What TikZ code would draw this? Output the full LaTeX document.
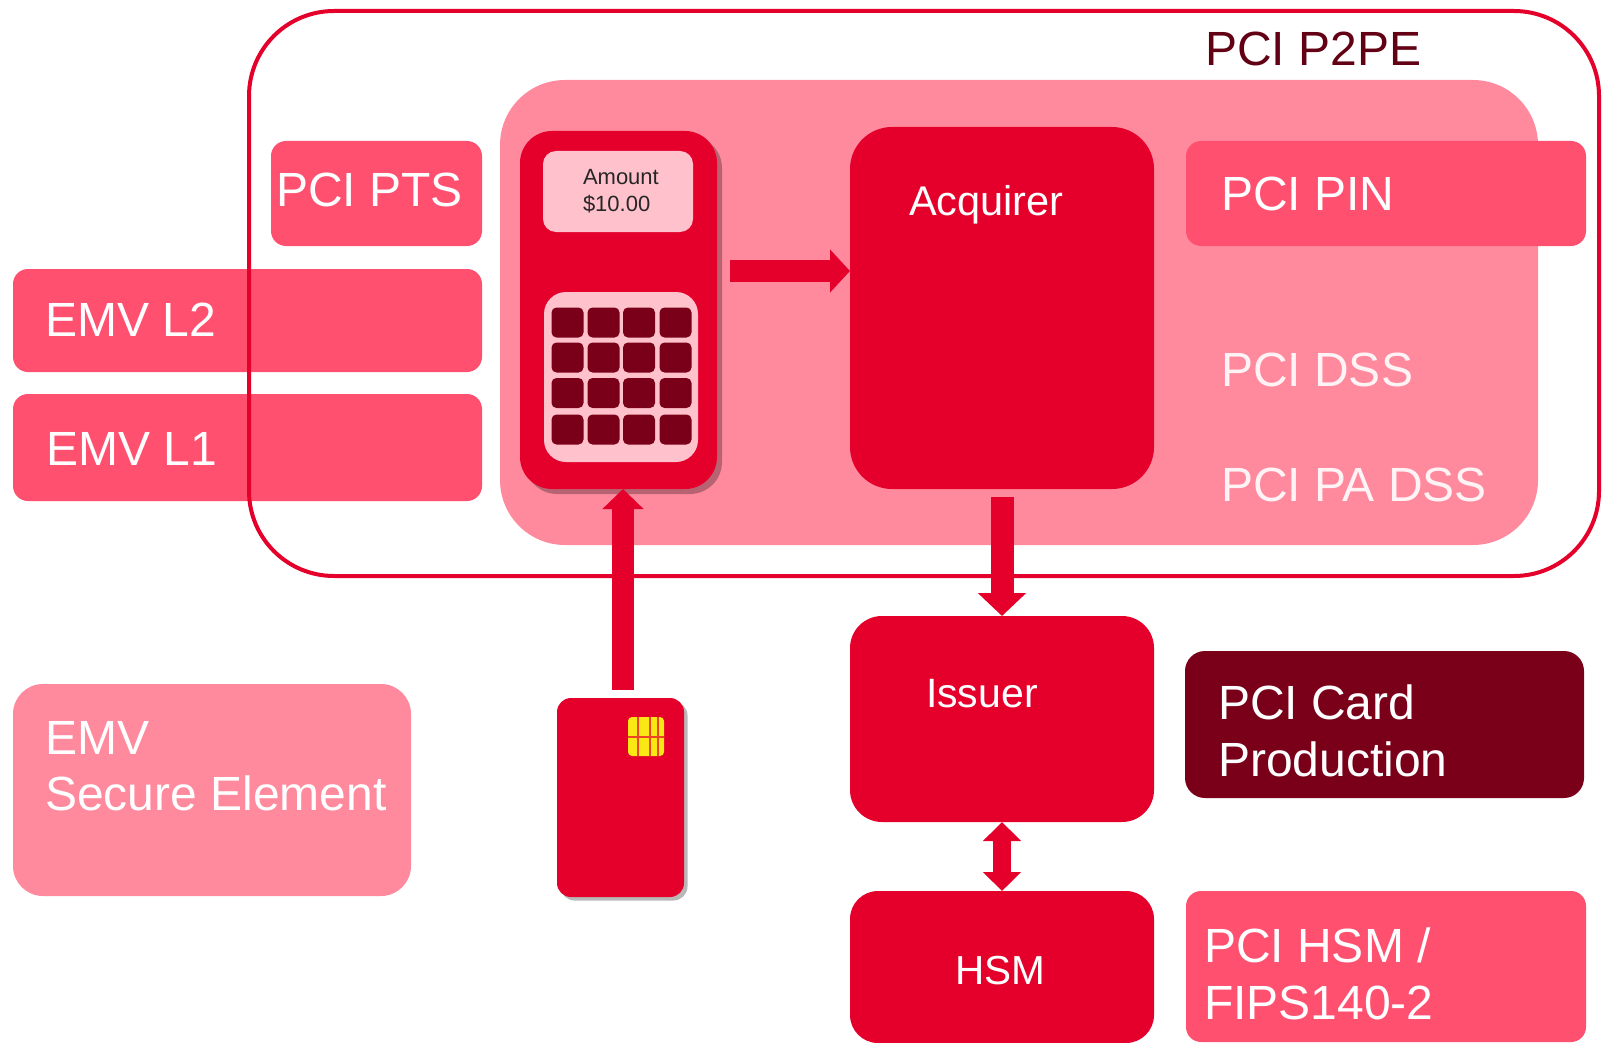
\documentclass[tikz,border=0pt]{standalone}
\usepackage{fontspec}
\setmainfont{Liberation Sans}
\usetikzlibrary{arrows.meta,shadows}
\definecolor{mainred}{HTML}{E4002B}
\definecolor{midpink}{HTML}{FF5070}
\definecolor{softpink}{HTML}{FF8A9E}
\definecolor{palepink}{HTML}{FFC2CC}
\definecolor{darkred}{HTML}{7A0019}
\definecolor{chipyellow}{HTML}{F9E814}
\tikzset{
  box/.style={rectangle,inner sep=0pt,outer sep=0pt},
  redbox/.style={box,fill=mainred},
  midbox/.style={box,fill=midpink,rounded corners=15pt},
  softbox/.style={box,fill=softpink},
  palebox/.style={box,fill=palepink},
  lift/.style={drop shadow={shadow xshift=#1,shadow yshift=-#1,fill=black,opacity=0.28}},
  label/.style={anchor=base west,inner sep=0pt,outer sep=0pt,text=white,align=left,
    font=\fontsize{48}{56.5}\selectfont},
  thick arrow/.style={draw=mainred,line width=#1},
}
\begin{document}
\begin{tikzpicture}[x=1pt,y=-1pt]
\useasboundingbox (0,0) rectangle (1602,1043);

\node (zone) [softbox,rounded corners=65pt,minimum width=1038pt,minimum height=465pt] at (1019,312.5) {};

\node (pts) [midbox,minimum width=211pt,minimum height=105pt] at (376.5,193.5) {};
\node (emvtwo) [midbox,minimum width=469pt,minimum height=103pt] at (247.5,320.5) {};
\node (emvone) [midbox,minimum width=469pt,minimum height=107pt] at (247.5,447.5) {};
\node (pin) [midbox,minimum width=400pt,minimum height=105pt] at (1386,193.5) {};
\node (fips) [midbox,minimum width=400pt,minimum height=151pt] at (1386,966.5) {};
\node (production) [box,fill=darkred,rounded corners=20pt,minimum width=399pt,minimum height=147pt] at (1384.5,724.5) {};
\node (element) [softbox,rounded corners=30pt,minimum width=398pt,minimum height=212pt] at (212,790) {};

\node (p2pe) [box,draw=mainred,line width=4pt,rounded corners=85pt,minimum width=1350pt,minimum height=565pt] at (924,293.5) {};

\node (terminal) [redbox,lift=5pt,rounded corners=32pt,minimum width=197pt,minimum height=358pt] at (618.5,310) {};
\node (screen) [palebox,rounded corners=13pt,minimum width=150pt,minimum height=81pt] at (618,191.5) {};
\node (keypad) [palebox,rounded corners=22pt,minimum width=154pt,minimum height=170pt] at (621,377) {};
\foreach \kx [count=\i] in {567.5,603.5,639,675.5}
  \foreach \ky [count=\j] in {322.5,357.5,393,429.5}
    \node (key\i\j) [box,fill=darkred,rounded corners=5pt,minimum width=32pt,minimum height=30pt] at (\kx,\ky) {};

\node (acquirer) [redbox,rounded corners=42pt,minimum width=304pt,minimum height=362pt] at (1002,308) {};
\node (issuer) [redbox,rounded corners=32pt,minimum width=304pt,minimum height=206pt] at (1002,719) {};
\node (hsm) [redbox,rounded corners=28pt,minimum width=304pt,minimum height=152pt] at (1002,967) {};

\node (card) [redbox,lift=3.5pt,rounded corners=14pt,minimum width=127pt,minimum height=199pt] at (620.5,797.5) {};
\node (chip) [box,fill=chipyellow,rounded corners=4pt,minimum width=36pt,minimum height=39pt] at (646,736.5) {};
\foreach \p in {638,650,658}
  \draw [mainred!70!chipyellow,line width=1.6pt] (\p,717) -- (\p,756);
\draw [mainred!70!chipyellow,line width=1.6pt] (628,737) -- (664,737);

\draw [thick arrow=22pt,-{Triangle[length=20pt,width=42pt]},shorten <=13pt] ([yshift=39pt]terminal.east) -- ([yshift=37pt]acquirer.west);
\draw [thick arrow=22pt,-{Triangle[length=20pt,width=40pt]},shorten <=8pt] ([xshift=2.5pt]card.north) -- ([xshift=4.5pt]terminal.south);
\draw [thick arrow=23pt,-{Triangle[length=23pt,width=47pt]},shorten <=8pt] (acquirer.south) -- (issuer.north);
\draw [thick arrow=18pt,{Triangle[length=19pt,width=37pt]}-{Triangle[length=19pt,width=37pt]}] (issuer.south) -- (hsm.north);

\node (p2petext) [label,text=darkred!80!black] at (1205,66) {PCI P2PE};
\node (ptstext) [label] at (276,207) {PCI PTS};
\node (emvtwotext) [label] at (45,336) {EMV L2};
\node (emvonetext) [label] at (46,465) {EMV L1};
\node (pintext) [label] at (1221,211) {PCI PIN};
\node (dsstext) [label,text=white!90!softpink] at (1221,386) {PCI DSS};
\node (padsstext) [label,text=white!90!softpink] at (1221,501) {PCI PA DSS};
\node (acquirertext) [label,font=\fontsize{41.5}{50}\selectfont] at (909,215) {Acquirer};
\node (issuertext) [label,font=\fontsize{41}{48}\selectfont] at (926,707) {Issuer};
\node (hsmtext) [label,font=\fontsize{40.5}{48}\selectfont] at (955,984) {HSM};
\node (productiontext) [label,anchor=west] at (1218,731) {PCI Card\\Production};
\node (fipstext) [label,anchor=west] at (1204,974) {PCI HSM /\\FIPS140-2};
\node (elementtext) [label,anchor=west] at (45,766) {EMV\\Secure Element};
\node (amounttext) [label,anchor=west,text=black!85,font=\fontsize{22}{27.5}\selectfont] at (583,191) {Amount\\\$10.00};
\end{tikzpicture}
\end{document}
